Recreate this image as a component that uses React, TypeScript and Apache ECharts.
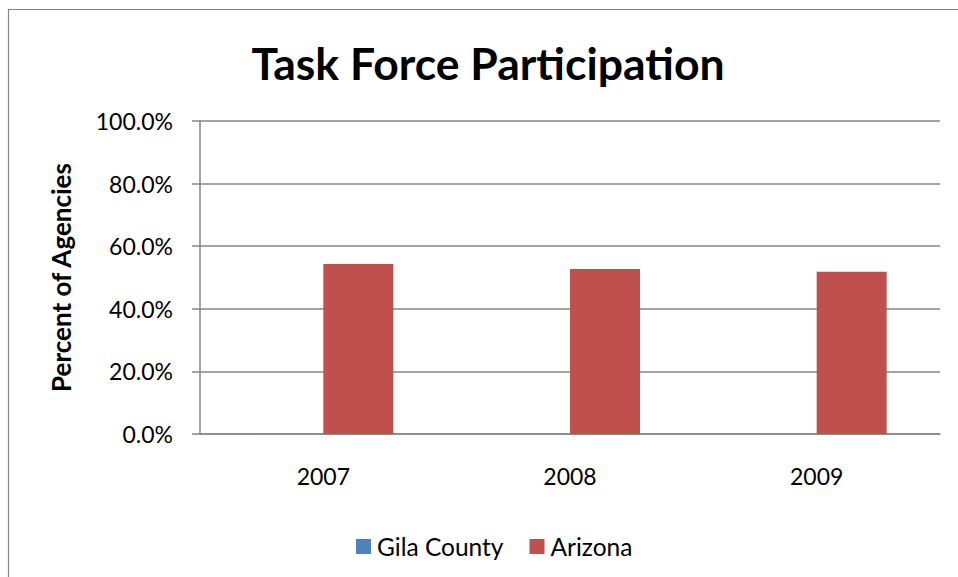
import React, { useEffect, useRef } from "react";
import * as echarts from "echarts";

const categories = ["2007", "2008", "2009"];
const gilaCounty = [0, 0, 0];
const arizona = [54.3, 52.7, 51.8];
const yTicks = { min: 0, max: 100, interval: 20 };

const FONT = "Lato";
const GRAY = "#868686";

export default function App() {
  const ref = useRef<HTMLDivElement>(null);
  useEffect(() => {
    document.body.style.margin = "0";
    const chart = echarts.init(ref.current!, undefined, { renderer: "svg" });
    chart.setOption({
      animation: false,
      backgroundColor: "#ffffff",
      textStyle: { fontFamily: FONT },
      title: {
        text: "Task Force Participation",
        left: 488,
        top: 40,
        padding: 0,
        textAlign: "center",
        textStyle: { fontFamily: FONT, fontWeight: "bold", fontSize: 44.5, color: "#000" },
      },
      graphic: [
        {
          type: "rect",
          shape: { x: 8.5, y: 9.5, width: 1000, height: 1000 },
          style: { fill: "none", stroke: GRAY, lineWidth: 1.2 },
          silent: true,
        },
      ],
      legend: {
        left: 356,
        top: 534,
        padding: 0,
        itemWidth: 15,
        itemHeight: 15,
        itemGap: 26,
        icon: "rect",
        textStyle: { fontFamily: FONT, fontSize: 24.5, color: "#000", padding: [0, 0, 0, 1] },
        data: ["Gila County", "Arizona"],
      },
      grid: { left: 200, right: 18, top: 121, bottom: 143 },
      xAxis: {
        type: "category",
        data: categories,
        axisLine: { show: true, lineStyle: { color: GRAY, width: 1.5 } },
        axisTick: { show: false },
        axisLabel: { fontFamily: FONT, fontSize: 23, color: "#000", margin: 30 },
      },
      yAxis: {
        type: "value",
        min: yTicks.min,
        max: yTicks.max,
        interval: yTicks.interval,
        name: "Percent of Agencies",
        nameLocation: "middle",
        nameGap: 126,
        nameTextStyle: { fontFamily: FONT, fontWeight: "bold", fontSize: 26, color: "#000" },
        axisLine: { show: true, lineStyle: { color: GRAY, width: 1.5 } },
        axisTick: { show: true, length: 8, lineStyle: { color: GRAY, width: 1.5 } },
        splitLine: { show: true, lineStyle: { color: GRAY, width: 1.5 } },
        axisLabel: {
          fontFamily: FONT,
          fontSize: 23,
          color: "#000",
          margin: 27,
          formatter: (v: number) => v.toFixed(1) + "%",
        },
      },
      series: [
        {
          name: "Gila County",
          type: "bar",
          data: gilaCounty,
          barWidth: 70,
          barGap: "0%",
          itemStyle: { color: "#4f81bd" },
        },
        {
          name: "Arizona",
          type: "bar",
          data: arizona,
          barWidth: 70,
          barGap: "0%",
          itemStyle: { color: "#c0504d" },
        },
      ],
    });
    return () => chart.dispose();
  }, []);
  return <div ref={ref} style={{ width: 958, height: 577 }} />;
}
